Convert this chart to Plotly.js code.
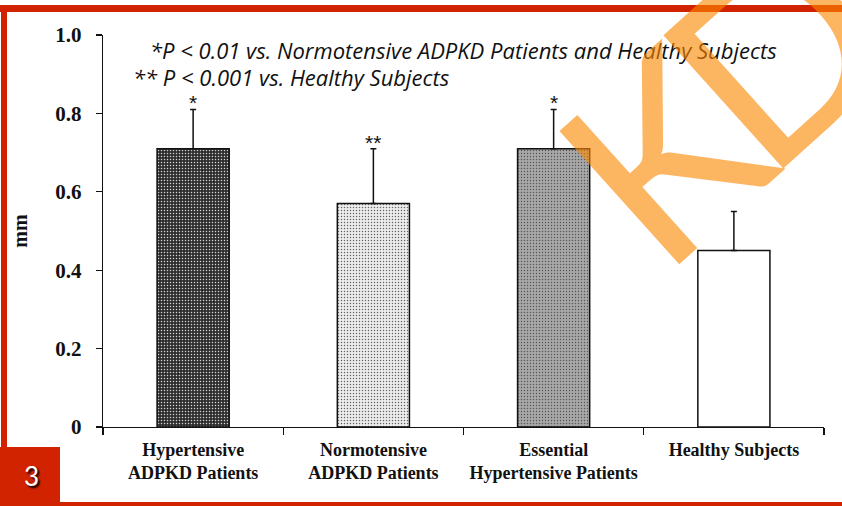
<!DOCTYPE html>
<html>
<head>
<meta charset="utf-8">
<script src="https://cdn.plot.ly/plotly-3.0.1.min.js"></script>
<style>
  html, body { margin: 0; padding: 0; background: #ffffff; }
  #chart { width: 842px; height: 506px; }
</style>
</head>
<body>
<div id="chart"></div>
<script>
// Carotid wall thickness by patient group (mean ± SD, mm)
var groups = [
  "Hypertensive<br>ADPKD Patients",
  "Normotensive<br>ADPKD Patients",
  "Essential<br>Hypertensive Patients",
  "Healthy Subjects"
];
var means = [0.71, 0.57, 0.71, 0.45];
var sds = [0.10, 0.14, 0.10, 0.10];
var marks = ["*", "**", "*", ""];

var yTickVals = [0, 0.2, 0.4, 0.6, 0.8, 1.0];
var yTickText = ["0", "0.2", "0.4", "0.6", "0.8", "1.0"];

var footnotes = [
  "*P < 0.01 vs. Normotensive ADPKD Patients and Healthy Subjects",
  "** P < 0.001 vs. Healthy Subjects"
];

// page geometry (pixels) and conversion to paper coordinates
var W = 842, H = 506;
var M = { l: 103, r: 18, t: 35, b: 79 };
var pw = W - M.l - M.r, ph = H - M.t - M.b;
function px(x) { return (x - M.l) / pw; }
function py(y) { return (H - M.b - y) / ph; }

var RED = "#d22300";
var serif = "Liberation Serif, Times New Roman, serif";
var sans = "Open Sans, Noto Sans, sans-serif";
var markFont = "Lato, Open Sans, sans-serif";

var fills = ["#2e2e2e", "#ededed", "#a8a8a8", "#ffffff"];
var specks = ["#666666", "#c4c4c4", "#d2d2d2", "#ffffff"];

var barTrace = {
  type: "bar",
  x: groups,
  y: means,
  width: 0.4,
  error_y: { type: "data", array: sds, symmetric: false, arrayminus: [0, 0, 0, 0],
             color: "#111", thickness: 1.5, width: 3 },
  marker: {
    color: fills,
    line: { color: "#111", width: 1.5 },
    pattern: {
      fillmode: "overlay",
      shape: [".", ".", ".", ""],
      fgcolor: specks,
      fgopacity: 0.8,
      size: 3,
      solidity: 0.2
    }
  },
  hoverinfo: "skip"
};

var annotations = [];
// significance marks just above the error bars
groups.forEach(function (g, i) {
  if (!marks[i]) return;
  annotations.push({
    x: g, y: means[i] + sds[i], xref: "x", yref: "y",
    text: marks[i], showarrow: false, yanchor: "bottom", yshift: -7,
    font: { family: "Liberation Sans, Arial, sans-serif", size: 21, color: "#111" }
  });
});
// footnotes
annotations.push({
  xref: "paper", yref: "paper", x: px(148), y: py(50), xanchor: "left", yanchor: "middle",
  text: footnotes[0], showarrow: false,
  font: { family: sans, size: 22, style: "italic", color: "#111" }
});
annotations.push({
  xref: "paper", yref: "paper", x: px(131), y: py(77), xanchor: "left", yanchor: "middle",
  text: footnotes[1], showarrow: false,
  font: { family: sans, size: 22, style: "italic", color: "#111" }
});
// slide number
annotations.push({
  xref: "paper", yref: "paper", x: px(31), y: py(476), xanchor: "center", yanchor: "middle",
  text: "3", showarrow: false,
  font: { family: markFont, size: 26, color: "#ffffff", shadow: "2px 2px 2px #000" }
});
// watermark letters
var wmFont = { family: markFont, size: 250, color: "rgba(250,135,0,0.62)" };
annotations.push({
  xref: "paper", yref: "paper", x: px(659), y: py(152), xanchor: "center", yanchor: "middle",
  text: "K", showarrow: false, textangle: -42, font: wmFont
});
annotations.push({
  xref: "paper", yref: "paper", x: px(772), y: py(48), xanchor: "center", yanchor: "middle",
  text: "D", showarrow: false, textangle: -42, font: wmFont
});

var shapes = [
  // slide frame: top, left, bottom bands
  { type: "rect", xref: "paper", yref: "paper", x0: px(0), x1: px(W), y0: py(12), y1: py(5),
    fillcolor: RED, line: { width: 0 }, layer: "above" },
  { type: "rect", xref: "paper", yref: "paper", x0: px(1), x1: px(7), y0: py(H), y1: py(5),
    fillcolor: RED, line: { width: 0 }, layer: "above" },
  { type: "rect", xref: "paper", yref: "paper", x0: px(0), x1: px(W), y0: py(H), y1: py(502),
    fillcolor: RED, line: { width: 0 }, layer: "above" },
  // slide number box
  { type: "rect", xref: "paper", yref: "paper", x0: px(0), x1: px(60), y0: py(502), y1: py(447),
    fillcolor: RED, line: { width: 0 }, layer: "above" }
];

var layout = {
  width: W, height: H, autosize: false,
  margin: M,
  paper_bgcolor: "#ffffff",
  plot_bgcolor: "#ffffff",
  showlegend: false,
  xaxis: {
    type: "category",
    tickson: "boundaries",
    ticks: "outside", ticklen: 7, tickwidth: 1.3, tickcolor: "#111",
    showline: true, linecolor: "#111", linewidth: 1.3,
    showgrid: false, zeroline: false,
    ticklabelstandoff: 6,
    tickfont: { family: serif, size: 18, weight: "bold", color: "#111" },
    range: [-0.5, 3.5]
  },
  yaxis: {
    range: [0, 1],
    tickvals: yTickVals, ticktext: yTickText,
    ticks: "outside", ticklen: 6, tickwidth: 1.3, tickcolor: "#111",
    showline: true, linecolor: "#111", linewidth: 1.3,
    showgrid: false, zeroline: false,
    ticklabelstandoff: 10,
    tickfont: { family: serif, size: 21, weight: "bold", color: "#111" },
    title: { text: "mm", standoff: 22,
             font: { family: serif, size: 20, weight: "bold", color: "#111" } }
  },
  annotations: annotations,
  shapes: shapes
};

Plotly.newPlot("chart", [barTrace], layout, { displayModeBar: false, staticPlot: true });
</script>
</body>
</html>
